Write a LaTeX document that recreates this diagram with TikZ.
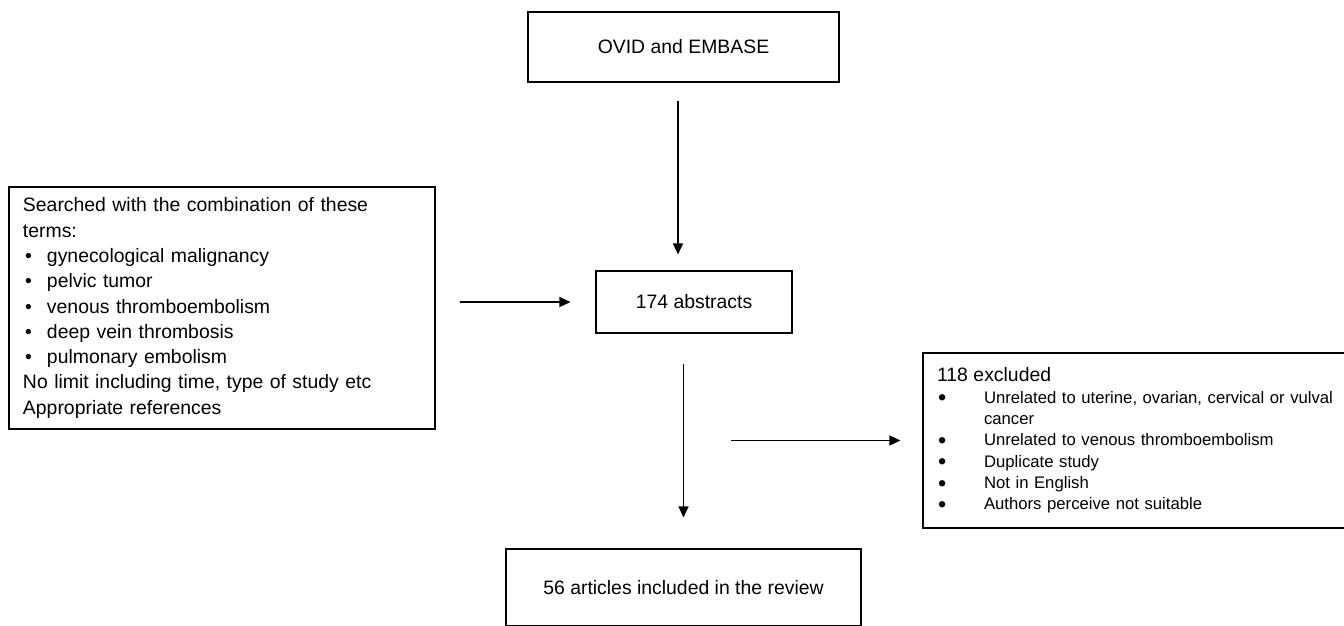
\documentclass[tikz,border=0pt]{standalone}
\usepackage{fontspec}
\setmainfont{Liberation Sans}
\usetikzlibrary{arrows.meta}
\tikzset{
  box/.style={draw, line width=1.1pt, inner sep=0pt, align=center, font=\fontsize{19.4}{25.3}\selectfont},
  listbox/.style={draw, line width=1.1pt, inner xsep=14pt, inner ysep=0pt, align=left},
  arr/.style={-{Triangle[length=11pt,width=10pt]}, line width=1.3pt},
}
\newcommand{\bul}[1]{\makebox[#1][l]{\hspace{2pt}\textbullet}}
\newcommand{\bigbul}[1]{\makebox[#1][l]{\hspace{1pt}\raisebox{-2.6pt}{\scalebox{1.4}{\textbullet}}}}
\begin{document}
\begin{tikzpicture}[x=1pt, y=1pt]
\useasboundingbox (0,0) rectangle (1344,-625);
% Define the nodes
\node (ovid) [box, minimum width=311pt, minimum height=70pt] at (683.5,-47) {OVID and EMBASE};
\node (abstracts) [box, minimum width=196pt, minimum height=62pt, node distance=255pt, below of=ovid, xshift=10.5pt] {174 abstracts};
\node (final) [box, minimum width=355pt, minimum height=77pt, node distance=285.5pt, below of=abstracts, xshift=-10.5pt] {56 articles included in the review};
\node (search) [listbox, text width=398pt, minimum height=242pt, node distance=472pt, left of=abstracts, yshift=-6pt, font=\fontsize{19.4}{25.3}\selectfont] {Searched with the combination of these\\
  terms:\\
  \bul{24pt}gynecological malignancy\\
  \bul{24pt}pelvic tumor\\
  \bul{24pt}venous thromboembolism\\
  \bul{24pt}deep vein thrombosis\\
  \bul{24pt}pulmonary embolism\\
  No limit including time, type of study etc\\
  Appropriate references};
\node (excluded) [listbox, text width=410pt, minimum height=175pt, font=\fontsize{16.7}{21.3}\selectfont] at (1142,-440.5) {{\fontsize{19.4}{25.3}\selectfont 118 excluded}\\
  \bigbul{47pt}Unrelated to uterine, ovarian, cervical or vulval\\
  \hspace*{47pt}cancer\\
  \bigbul{47pt}Unrelated to venous thromboembolism\\
  \bigbul{47pt}Duplicate study\\
  \bigbul{47pt}Not in English\\
  \bigbul{47pt}Authors perceive not suitable};

% Connect the nodes
\draw[arr, shorten <=18pt, shorten >=16pt] ([xshift=-5.5pt]ovid.south) -- ([xshift=-5.5pt]ovid.south |- abstracts.north);
\draw[arr, shorten <=24pt, shorten >=25pt] (search.east |- abstracts.west) -- (abstracts.west);
\draw[arr, shorten <=30pt, shorten >=31pt] (abstracts.south -| final.north) -- (final.north);
\draw[arr, shorten >=22pt] ([xshift=47pt]final.north |- excluded.west) -- (excluded.west);
\end{tikzpicture}
\end{document}
